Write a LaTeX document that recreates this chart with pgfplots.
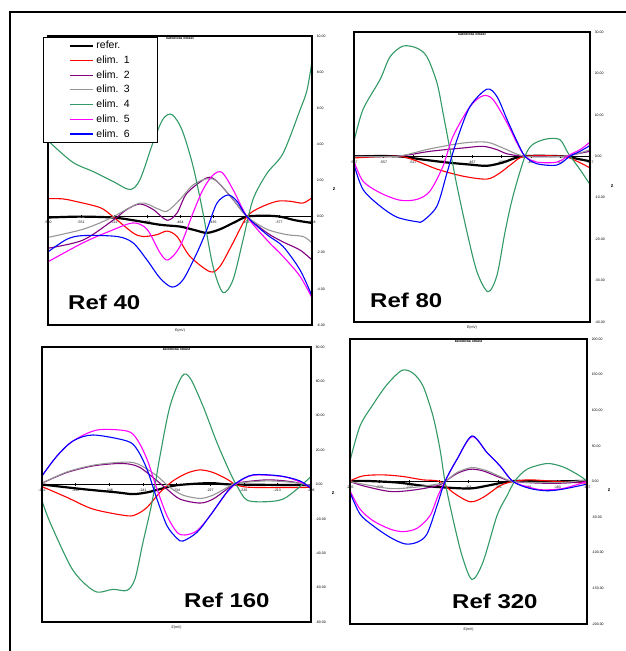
\documentclass[border=0pt]{standalone}
\usepackage{fontspec}
\setmainfont{Liberation Sans}
\usepackage{pgfplots}
\pgfplotsset{compat=1.18}
\definecolor{cref}{RGB}{0,0,0}
\definecolor{ce1}{RGB}{255,0,0}
\definecolor{ce2}{RGB}{128,0,128}
\definecolor{ce3}{RGB}{150,150,150}
\definecolor{ce4}{RGB}{51,153,102}
\definecolor{ce5}{RGB}{255,0,255}
\definecolor{ce6}{RGB}{0,0,255}
\newcommand{\tinyfont}{\fontsize{3.5}{4}\selectfont}
\pgfplotsset{
  panel/.style={
    scale only axis, anchor=south west,
    axis x line=middle, axis y line=right,
    x axis line style={-, line width=0.9pt},
    y axis line style={-, line width=1.3pt},
    enlargelimits=false, clip=true,
    hide obscured x ticks=false, hide obscured y ticks=false,
    xmin=0,
    tick style={black, line width=0.4pt},
    major tick length=2.5pt,
    tick label style={font=\tinyfont, /pgf/number format/assume math mode=true},
    yticklabel style={/pgf/number format/fixed, /pgf/number format/fixed zerofill, /pgf/number format/precision=2},
    title={katodická oblast},
    title style={at={(0.5,1)}, anchor=north, yshift=-3pt, font=\tinyfont\bfseries},
    every axis plot/.append style={line width=1.1pt, smooth, tension=0.5},
    after end axis/.code={
      \draw[line width=1.1pt] (rel axis cs:0,0) rectangle (rel axis cs:1,1);
      \node[font=\tinyfont, below] at (rel axis cs:0.5,0) {E(mV)};
      \node[font=\fontsize{5}{5}\selectfont\bfseries, xshift=22pt] at (rel axis cs:1,0.47) {z};
    },
  },
  refl/.style={cref, line width=2.2pt},
}
\begin{document}
\begin{tikzpicture}[x=1pt,y=1pt]
\useasboundingbox (0,0) rectangle (626,651);
\draw[line width=2pt] (10,-5) -- (10,639) -- (632,639);

% Ref 40
\begin{axis}[panel, at={(48pt,326pt)}, width=264pt, height=289pt,
  xmax=264, ymin=-6, ymax=10, ytick={-6,-4,...,10},
  xtick={0,33,...,264},
  xticklabels={-580,-551,-522,-493,-464,-435,-406,-377,-348},
  legend style={at={(-0.019,0.997)}, anchor=north west, draw=black, line width=0.6pt,
    fill=white, font=\fontsize{10.5}{12}\selectfont, cells={anchor=west},
    inner xsep=26pt, inner ysep=2pt, row sep=1.6pt},
  legend image code/.code={\draw[#1] (0pt,0pt) -- (23pt,0pt);},
]
\addplot[refl] coordinates {(0,-0.05)(32,0)(65,-0.05)(85,-0.2)(112,-0.45)(132,-0.55)(147,-0.75)(159,-0.9)(172,-0.7)(187,-0.3)(199,0)(217,0.05)(232,0)(247,-0.2)(264,-0.35)};
\addplot[ce1] coordinates {(0,1.0)(15,0.98)(27,0.85)(52,0.5)(65,0)(85,-0.9)(95,-1.1)(109,-1.0)(119,-0.8)(129,-1.1)(142,-2.2)(162,-3.05)(172,-2.75)(185,-1.45)(199,0)(212,0.5)(229,0.85)(242,0.85)(255,0.75)(264,1.05)};
\addplot[ce2] coordinates {(0,-1.75)(35,-1.3)(65,-0.2)(79,0.4)(92,0.7)(105,0.4)(119,-0.2)(129,0.2)(139,1.3)(159,2.15)(169,1.95)(185,0.95)(199,0)(219,-0.9)(235,-1.4)(252,-1.85)(264,-2.4)};
\addplot[ce3] coordinates {(0,-1.15)(35,-0.7)(62,-0.1)(92,0.75)(109,0.45)(119,0.3)(132,0.95)(145,1.75)(159,2.1)(169,1.95)(185,0.95)(199,0)(219,-0.7)(239,-1.0)(255,-1.1)(264,-1.45)};
\addplot[ce4] coordinates {(0,4.3)(2,4.1)(25,3.0)(45,2.5)(65,1.95)(82,1.5)(92,2.05)(105,4.1)(115,5.4)(124,5.65)(134,4.8)(145,2.8)(155,0.2)(165,-2.75)(175,-4.2)(185,-3.5)(195,-1.3)(205,0.95)(219,2.4)(235,3.5)(252,5.9)(259,7.0)(264,8.6)};
\addplot[ce5] coordinates {(0,-2.5)(35,-1.45)(62,-0.8)(85,-0.35)(99,-0.7)(112,-2.0)(120,-2.4)(132,-1.65)(145,0.2)(155,1.5)(165,2.3)(174,2.45)(185,1.5)(199,0)(219,-1.3)(235,-2.2)(252,-3.3)(264,-4.5)};
\addplot[ce6] coordinates {(0,-1.95)(19,-1.25)(35,-1.05)(69,-1.1)(85,-1.45)(99,-2.4)(112,-3.4)(124,-3.9)(135,-3.5)(149,-2.0)(159,-0.7)(169,0.75)(180,1.2)(189,0.85)(199,0)(219,-1.0)(235,-1.65)(252,-2.95)(264,-4.4)};
\legend{refer., elim.\enspace 1, elim.\enspace 2, elim.\enspace 3, elim.\enspace 4, elim.\enspace 5, elim.\enspace 6}
\end{axis}

% Ref 80
\begin{axis}[panel, at={(354pt,329pt)}, width=236pt, height=290pt,
  xmax=236, ymin=-40, ymax=30, ytick={-40,-30,...,30},
  xtick={0,29.5,...,236},
  xticklabels={-587,-557,-527,-497,-467,-437,-407,-377,-347},
]
\addplot[refl] coordinates {(0,0)(43,0)(69,-0.8)(93,-1.5)(116,-2.0)(133,-2.3)(149,-1.5)(169,0)(209,0)(223,-0.6)(236,-1.2)};
\addplot[ce1] coordinates {(0,-0.4)(43,0)(59,-0.8)(83,-3.1)(109,-4.8)(133,-5.5)(146,-4.0)(159,-1.6)(171,0)(209,0)(223,-1.2)(236,-2.8)};
\addplot[ce2] coordinates {(0,0)(43,0)(76,1.2)(109,2.0)(129,2.4)(143,1.6)(153,0.6)(171,0)(209,0)(223,0.6)(236,1.2)};
\addplot[ce3] coordinates {(0,0)(43,0)(76,1.8)(109,3.2)(133,3.4)(149,2.0)(171,0)(209,0)(223,0.6)(236,1.6)};
\addplot[ce4] coordinates {(0,3.6)(9,11.3)(26,18.5)(36,24)(49,26.6)(63,26.1)(73,24)(83,17.7)(89,10.5)(96,1.6)(103,-7.2)(113,-18.3)(123,-27.9)(134,-32.7)(143,-28.7)(151,-18.3)(159,-9.6)(171,0)(179,2.9)(193,4.2)(206,4.0)(214,0.8)(226,-3.2)(236,-6.8)};
\addplot[ce5] coordinates {(0,-1.2)(9,-6.0)(26,-8.8)(46,-10.6)(63,-10.4)(76,-8.4)(89,-2.4)(99,4.8)(116,12.0)(129,14.6)(139,13.7)(153,8.1)(163,3.2)(171,0)(183,-1.4)(203,-1.4)(216,0.4)(226,1.6)(236,3.4)};
\addplot[ce6] coordinates {(0,-2.0)(9,-8.0)(26,-12.0)(43,-14.7)(63,-15.8)(69,-15.6)(83,-12.0)(93,-4.0)(103,4.0)(116,12)(133,16.2)(143,14.4)(153,8.9)(163,3.6)(171,0)(183,-1.8)(203,-2.1)(216,0)(226,1.2)(236,2.6)};
\end{axis}

% Ref 160
\begin{axis}[panel, at={(42pt,29pt)}, width=269pt, height=275pt,
  xmax=269, ymin=-80, ymax=80, ytick={-80,-60,...,80},
  xtick={0,33.625,...,269},
  xticklabels={-262,-255,-248,-241,-234,-227,-220,-213,-206},
]
\addplot[refl] coordinates {(0,0)(41,-2.7)(75,-4.6)(91,-5.6)(105,-4.6)(118,-2.7)(135,-0.4)(168,0.8)(191,0)(269,-0.4)};
\addplot[ce1] coordinates {(0,-1.2)(25,-7.5)(51,-14.3)(85,-18.2)(95,-17.2)(105,-13.3)(118,-4.6)(131,2.1)(145,6.6)(158,8.5)(171,7.0)(185,3.1)(195,-0.4)(211,-1.7)(269,-1.7)};
\addplot[ce2] coordinates {(0,0.8)(25,7.0)(51,10.8)(75,12.2)(88,11.8)(98,9.9)(111,4.1)(125,-2.7)(138,-8.5)(158,-10.8)(171,-8.5)(185,-2.7)(195,0.8)(225,2.7)(251,1.5)(269,-1.2)};
\addplot[ce3] coordinates {(0,0.8)(25,7.3)(51,11.2)(75,12.8)(91,12.8)(101,10.4)(115,5.0)(128,-1.7)(141,-6.2)(158,-8.1)(171,-6.2)(188,-0.8)(195,0.8)(225,2.1)(251,1.2)(269,-0.4)};
\addplot[ce4] coordinates {(0,-9.5)(8,-22)(28,-47)(41,-56.8)(55,-62.6)(71,-61)(85,-61.6)(93,-54.9)(101,-33.6)(110,-10.4)(118,16.6)(128,45.6)(140,63)(148,62)(161,45.6)(175,24.3)(188,7.0)(195,-0.8)(205,-9.1)(225,-10)(241,-8.5)(255,-2.7)(269,4.6)};
\addplot[ce5] coordinates {(0,5.0)(15,16.6)(31,25.3)(55,31.7)(85,31.1)(95,26.3)(105,14.7)(115,-2.7)(125,-18.2)(135,-27.8)(143,-29.4)(155,-26.9)(168,-18.2)(185,-4.6)(195,0.8)(211,5.4)(241,4.6)(258,1.5)(269,-1.7)};
\addplot[ce6] coordinates {(0,5.0)(15,16.6)(31,25.3)(51,28.8)(85,25.3)(95,20.5)(105,8.9)(115,-8.5)(125,-24)(135,-31.3)(141,-32.9)(155,-27.8)(168,-18.2)(185,-4.3)(195,1.2)(211,5.6)(238,5.0)(258,2.1)(269,-2.3)};
\end{axis}

% Ref 320
\begin{axis}[panel, at={(350pt,27pt)}, width=237pt, height=285pt,
  xmax=237, ymin=-200, ymax=200, ytick={-200,-150,...,200},
  xtick={0,29.625,...,237},
  xticklabels={-235,-229,-223,-217,-211,-205,-199,-193,-187},
]
\addplot[refl] coordinates {(0,0)(13,0.9)(47,-1.4)(73,-6)(95,-8.4)(120,-9.8)(137,-6)(153,-1.4)(167,0.9)(197,0)(237,0.9)};
\addplot[ce1] coordinates {(0,0.9)(13,7.9)(33,9.3)(53,7.0)(73,2.3)(90,0)(103,-15.4)(120,-28.4)(133,-22.4)(150,-6)(163,0)(180,2.3)(207,0)(237,-2.3)};
\addplot[ce2] coordinates {(0,0)(13,-6)(40,-14)(63,-12.1)(87,-6)(95,0)(107,11.2)(120,17.2)(133,14.9)(150,5.6)(163,0)(190,-2.3)(213,-2.3)(237,0)};
\addplot[ce3] coordinates {(0,0)(13,-3.7)(40,-9.8)(63,-8.4)(87,-3.7)(95,0)(107,12.6)(122,19.6)(137,14.9)(150,7.0)(163,0)(190,-1.4)(213,-1.4)(237,2.3)};
\addplot[ce4] coordinates {(0,28.9)(10,77.9)(23,108)(37,136)(52,156)(63,152)(73,134)(83,91.8)(90,45.2)(95,0)(103,-52.7)(112,-104)(122,-137.5)(133,-113)(147,-48)(157,-20)(165,0.9)(177,17.2)(197,25.2)(213,20.5)(227,10.3)(237,0.9)};
\addplot[ce5] coordinates {(0,-13)(10,-38.7)(23,-55)(40,-66.7)(53,-70.4)(67,-65.7)(80,-48)(88,-20)(95,0)(107,31.2)(122,62.9)(137,40.6)(150,21.9)(163,0)(180,-8.4)(193,-11.7)(213,-9.8)(237,0)};
\addplot[ce6] coordinates {(0,-15.4)(10,-45.7)(23,-62)(40,-78.3)(55,-87.6)(67,-85.3)(77,-73.7)(87,-34)(95,0)(107,31.2)(122,63.9)(137,40.6)(150,21.9)(163,0)(180,-9.8)(197,-13)(213,-10.7)(237,-3.7)};
\end{axis}

\node[anchor=base west, font=\fontsize{20}{20}\selectfont\bfseries, xscale=1.2] at (64,341) {Ref 40};
\node[anchor=base west, font=\fontsize{20}{20}\selectfont\bfseries, xscale=1.2] at (366,343) {Ref 80};
\node[anchor=base west, font=\fontsize{20}{20}\selectfont\bfseries, xscale=1.2] at (180,43) {Ref 160};
\node[anchor=base west, font=\fontsize{20}{20}\selectfont\bfseries, xscale=1.2] at (448,42) {Ref 320};
\end{tikzpicture}
\end{document}
